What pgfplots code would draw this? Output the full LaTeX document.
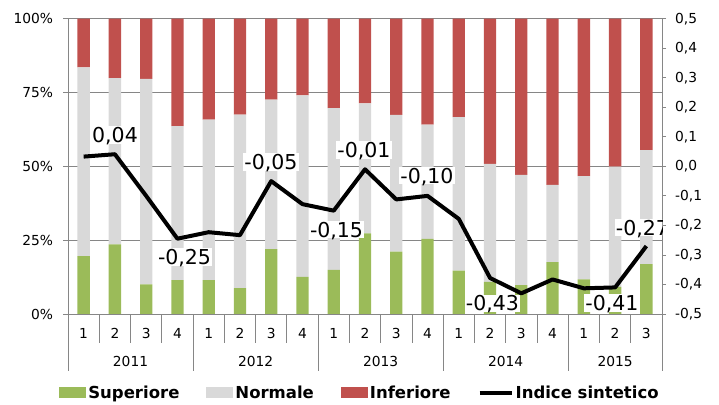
\documentclass[border=0pt]{standalone}
\usepackage{pgfplots}
\pgfplotsset{compat=1.18}
\usepackage{pgfplotstable}
\usepackage{fontspec}
\setmainfont{DejaVu Sans}

\definecolor{sup}{HTML}{9BBB59}
\definecolor{nor}{HTML}{D9D9D9}
\definecolor{inf}{HTML}{C0504D}
\definecolor{axgray}{HTML}{868686}

% quarters 2011Q1 .. 2015Q3; shares in %, index on the right axis
\pgfplotstableread{
x  sup  norm inf  idx
0  19.6 63.9 16.5  0.033
1  23.6 56.3 20.1  0.041
2  10.0 69.6 20.4 -0.100
3  11.5 52.1 36.4 -0.245
4  11.5 54.3 34.2 -0.223
5   8.8 58.7 32.5 -0.233
6  22.0 50.6 27.4 -0.050
7  12.6 61.4 26.0 -0.128
8  14.9 54.8 30.3 -0.150
9  27.3 44.0 28.7 -0.010
10 21.1 46.3 32.6 -0.112
11 25.4 38.7 35.9 -0.100
12 14.7 52.0 33.3 -0.178
13 10.9 39.9 49.2 -0.378
14  9.8 37.3 52.9 -0.430
15 17.6 26.1 56.3 -0.383
16 11.7 35.0 53.3 -0.413
17  9.2 40.7 50.1 -0.410
18 16.9 38.6 44.5 -0.270
}\data

\pgfplotsset{
  common/.style={
    at={(68pt,90pt)}, anchor=south west,
    width=594pt, height=295.3pt, scale only axis,
    xmin=-0.5, xmax=18.5,
    tick align=outside,
    tick style={axgray, line width=0.8pt},
    axis line style={axgray, line width=0.8pt},
    tick label style={font=\fontsize{13.8}{16}\selectfont},
    /pgf/number format/assume math mode=true,
  },
  % empty axes that only carry the two-level category axis
  catx/.style={
    common, ymin=0, ymax=1,
    axis y line=none, axis x line*=bottom,
    x axis line style={draw=none},
  },
}

\begin{document}
\begin{tikzpicture}
\useasboundingbox (0,0) rectangle (719pt,404pt);

% bars, left axis
\begin{axis}[
  common,
  ybar stacked, bar width=12.3pt,
  ymin=0, ymax=100,
  axis x line*=bottom, axis y line*=left,
  xtick=\empty,
  ytick={0,25,50,75,100},
  yticklabels={0\%,25\%,50\%,75\%,100\%},
  yticklabel style={anchor=east, inner sep=0pt, xshift=-9.7pt},
  ymajorgrids, grid style={axgray, line width=0.8pt},
  major tick length=5pt,
  legend columns=4,
  legend style={at={(0.4916,-0.2675)}, anchor=center, draw=none, fill=none,
    inner sep=0pt,
    font=\bfseries\fontsize{16.5}{19}\selectfont,
    /tikz/every even column/.append style={column sep=25pt}},
]
\addplot[fill=sup, draw=none,
  legend image code/.code={\fill[sup] (0pt,-5.5pt) rectangle (27pt,5.5pt);}]
  table[x=x, y=sup]{\data};
\addplot[fill=nor, draw=none,
  legend image code/.code={\fill[nor] (0pt,-5.5pt) rectangle (27pt,5.5pt);}]
  table[x=x, y=norm]{\data};
\addplot[fill=inf, draw=none,
  legend image code/.code={\fill[inf] (0pt,-5.5pt) rectangle (27pt,5.5pt);}]
  table[x=x, y=inf]{\data};
\addlegendimage{legend image code/.code={\draw[black, line width=4pt] (0pt,0pt) -- (32pt,0pt);}}
\legend{Superiore, Normale, Inferiore, Indice sintetico}
\end{axis}

% quarter separators and labels
\begin{axis}[
  catx,
  xtick={-0.5,0.5,1.5,2.5,3.5,4.5,5.5,6.5,7.5,8.5,9.5,10.5,11.5,12.5,13.5,14.5,15.5,16.5,17.5},
  xticklabels={1,2,3,4,1,2,3,4,1,2,3,4,1,2,3,4,1,2,3},
  major tick length=28.7pt,
  xticklabel style={anchor=center, inner sep=0pt, xshift=15.63pt, yshift=9.7pt},
]
\end{axis}

% year separators
\begin{axis}[
  catx,
  xtick={-0.5,3.5,7.5,11.5,15.5,18.5},
  xticklabels={},
  major tick length=56.7pt,
]
\end{axis}

% year labels
\begin{axis}[
  catx,
  xtick={1.5,5.5,9.5,13.5,17},
  xticklabels={2011,2012,2013,2014,2015},
  major tick length=0pt,
  xticklabel style={anchor=center, inner sep=0pt, yshift=-47.7pt},
]
\end{axis}

% index line, right axis
\begin{axis}[
  common,
  ymin=-0.5, ymax=0.5,
  axis y line*=right, axis x line=none,
  xtick=\empty,
  ytick={-0.5,-0.4,-0.3,-0.2,-0.1,0,0.1,0.2,0.3,0.4,0.5},
  major tick length=4pt,
  yticklabel style={anchor=west, inner sep=0pt, xshift=9pt,
    /pgf/number format/.cd, fixed, fixed zerofill, precision=1, use comma},
]
\addplot[black, line width=4pt, line join=round, mark=none]
  table[x=x, y=idx]{\data};
\begin{scope}[every node/.style={fill=white, inner sep=1pt, text depth=0pt,
    font=\fontsize{20.5}{24}\selectfont}]
\node at (axis cs:1.003,0.106)   {0,04};
\node at (axis cs:3.227,-0.307)  {-0,25};
\node at (axis cs:5.993,0.015)   {-0,05};
\node at (axis cs:8.089,-0.214)  {-0,15};
\node at (axis cs:8.968,0.055)   {-0,01};
\node at (axis cs:10.983,-0.031) {-0,10};
\node at (axis cs:13.078,-0.464) {-0,43};
\node at (axis cs:16.90,-0.463)  {-0,41};
\node at (axis cs:17.876,-0.207) {-0,27};
\end{scope}
\end{axis}
\end{tikzpicture}
\end{document}
